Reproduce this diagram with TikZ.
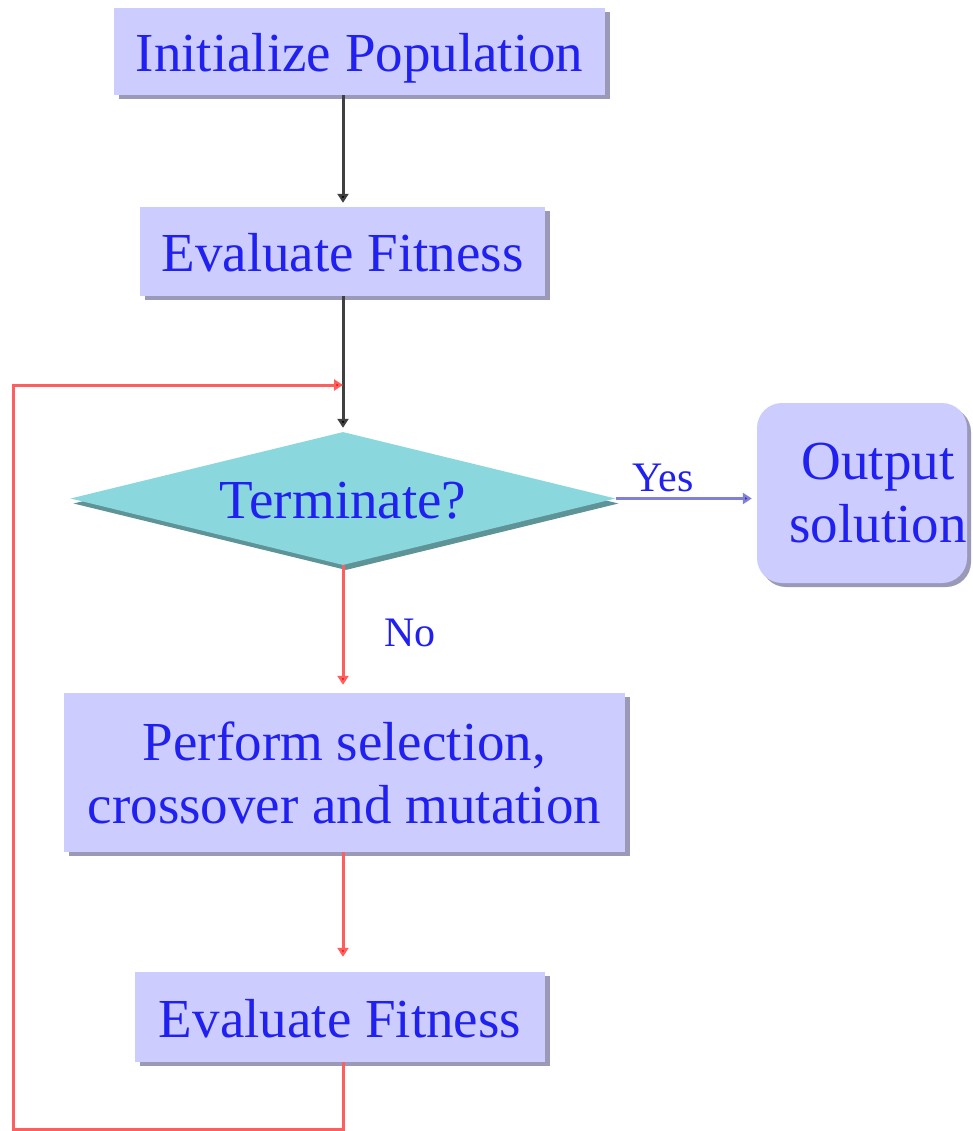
\documentclass[tikz,border=0pt]{standalone}
\usepackage{fontspec}
\setmainfont{Liberation Serif}
\usetikzlibrary{arrows.meta,shapes.geometric,shadows}
\definecolor{boxfill}{HTML}{CCCCFF}
\definecolor{boxshadow}{HTML}{9A9AB8}
\definecolor{dfill}{HTML}{8AD8DE}
\definecolor{dshadow}{HTML}{5E9498}
\definecolor{txtblue}{HTML}{2020F0}
\definecolor{lred}{HTML}{FF5E5E}
\definecolor{ared}{HTML}{FF1010}
\definecolor{lgray}{HTML}{404040}
\definecolor{yesline}{HTML}{8080D8}
\definecolor{yestip}{HTML}{3030C0}
\begin{document}
\begin{tikzpicture}[x=1pt,y=-1pt,
  bigfont/.style={font=\fontsize{55}{63}\selectfont},
  smallfont/.style={font=\fontsize{42}{48}\selectfont},
  box/.style={rectangle, fill=boxfill, text=txtblue, bigfont, inner sep=0pt,
    drop shadow={shadow xshift=5pt, shadow yshift=-4pt, fill=boxshadow, opacity=1}},
  oneline/.style={text height=42pt, text depth=2pt},
  outbox/.style={rectangle, rounded corners=25pt, fill=boxfill, inner sep=0pt,
    drop shadow={shadow xshift=4pt, shadow yshift=-4pt, fill=boxshadow, opacity=1}},
  decision/.style={diamond, fill=dfill, text=txtblue, bigfont, inner sep=0pt, aspect=4,
    drop shadow={shadow xshift=3pt, shadow yshift=-5pt, fill=dshadow, opacity=1}},
  txt/.style={text=txtblue, inner sep=0pt},
  blkarrow/.style={draw=lgray, line width=3pt, -{Triangle[width=11pt,length=9pt,fill=black]}},
  redarrow/.style={draw=lred, line width=3pt, -{Triangle[width=11pt,length=9pt,fill=ared]}},
  yesarrow/.style={draw=yesline, line width=3pt, -{Triangle[width=11pt,length=9pt,fill=yestip]}},
]
\useasboundingbox (0,0) rectangle (973,1131);
\fill[white] (0,0) rectangle (973,1131);

\node[box, oneline, minimum width=491pt, minimum height=87pt] (init) at (359.5,51.5) {Initialize Population};
\node[box, oneline, minimum width=405pt, minimum height=89pt] (eval1) at (342.5,251.5) {Evaluate Fitness};
\node[decision, oneline, minimum width=545pt, minimum height=133pt] (term) at (343,498.5) {Terminate?};
\node[outbox, minimum width=210pt, minimum height=180pt] (out) at (862,493) {};
\node[txt, bigfont, align=center] (outtxt) at (878,493) {Output\\solution};
\node[box, align=center, minimum width=561pt, minimum height=159pt] (perform) at (344.5,772.5) {Perform selection,\\crossover and mutation};
\node[box, oneline, minimum width=410pt, minimum height=90pt] (eval2) at (340,1017) {Evaluate Fitness};

\coordinate (lb) at (13,1129);
\coordinate (lt) at (13,385);
\coordinate (join) at (343,385);

\draw[blkarrow, shorten >=4pt] (init.south -| term.north) -- (eval1.north -| term.north);
\draw[blkarrow, shorten >=4pt] (eval1.south -| term.north) -- (term.north);
\draw[redarrow, shorten >=8pt] (term.south) -- (perform.north -| term.south);
\draw[redarrow, shorten >=15pt] (perform.south -| term.south) -- (eval2.north -| term.south);
\draw[redarrow] (eval2.south -| term.south) |- (lb) -- (lt) -- (join);
\draw[yesarrow, shorten >=5pt] (term.east) -- (out.west |- term.east);

\node[txt, smallfont] (yes) at (663,478) {Yes};
\node[txt, smallfont] (no) at (410,633) {No};
\end{tikzpicture}
\end{document}
